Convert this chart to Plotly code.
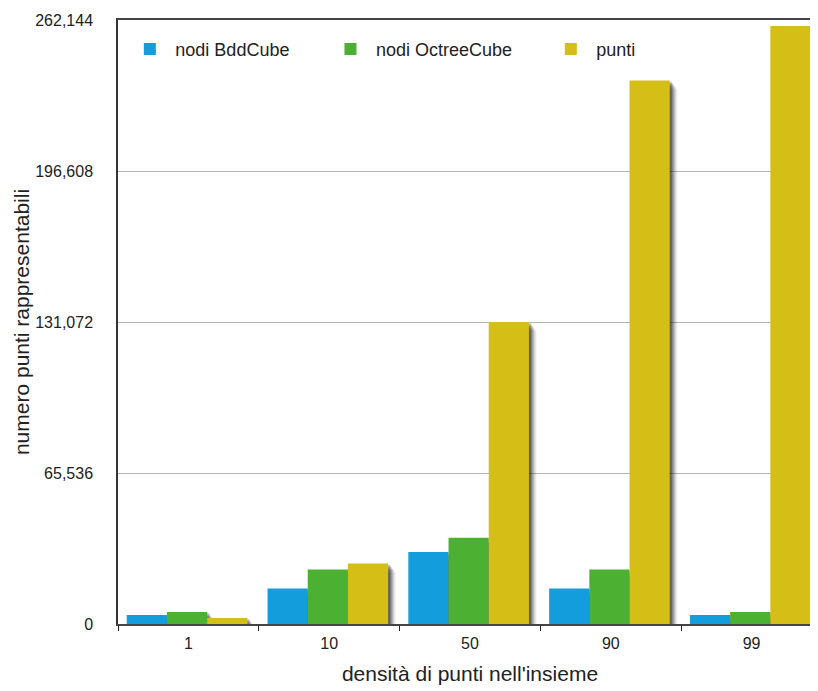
import plotly.graph_objects as go

categories = ["1", "10", "50", "90", "99"]
nodi_bddcube = [3900, 15400, 31200, 15400, 3900]
nodi_octreecube = [5200, 23600, 37400, 23600, 5200]
punti = [2621, 26214, 131072, 235930, 259523]
series_names = ["nodi BddCube", "nodi OctreeCube", "punti"]
y_tick_vals = [0, 65536, 131072, 196608, 262144]
y_tick_text = ["0", "65,536", "131,072", "196,608", "262,144"]

colors = ["#139ddd", "#4cb032", "#d5be16"]
series = [nodi_bddcube, nodi_octreecube, punti]
legends = ["legend", "legend2", "legend3"]
legend_x = [0.009, 0.294, 0.607]

W = 0.2855         # bar width in category units
offsets = [-0.438, -0.1525, 0.133]
PX = 1 / 140.8     # one pixel in category units
YPX = 262144 / 607 # one pixel in y units

fig = go.Figure()

# soft drop shadows (drawn first, underneath the bars)
for vals, off in zip(series, offsets):
    for k, a in [(1, 0.22), (2, 0.18), (3, 0.15), (4, 0.12), (5, 0.09), (6, 0.06), (7, 0.04)]:
        fig.add_trace(go.Bar(
            x=categories, y=vals, width=W, offset=off + (k + 1) * PX,
            base=[-k * 1.3 * YPX] * len(vals),
            marker=dict(color=f"rgba(0,0,0,{a})", line=dict(width=0)),
            showlegend=False, hoverinfo="skip", cliponaxis=False,
        ))

for name, vals, col, off, lg in zip(series_names, series, colors, offsets, legends):
    fig.add_trace(go.Bar(
        x=categories, y=vals, name=name, width=W, offset=off,
        marker=dict(color=col, line=dict(width=0)), legend=lg,
    ))

font = "Liberation Sans, Arial, Helvetica, sans-serif"
legend_style = dict(orientation="h", y=0.982, xanchor="left", yanchor="top",
                    font=dict(size=18, color="#222"), bgcolor="rgba(0,0,0,0)",
                    itemwidth=41)

fig.update_layout(
    width=818, height=691,
    margin=dict(l=110, r=4, t=9, b=75),
    barmode="overlay",
    paper_bgcolor="white", plot_bgcolor="white",
    font=dict(family=font, color="#222", size=16),
    showlegend=True,
    legend=dict(x=legend_x[0], **legend_style),
    legend2=dict(x=legend_x[1], **legend_style),
    legend3=dict(x=legend_x[2], **legend_style),
    xaxis=dict(
        type="category", range=[-0.5, 4.5],
        showline=True, linecolor="#444", linewidth=1.7, mirror=True,
        ticks="outside", ticklen=5, tickcolor="#222", tickson="boundaries",
        showgrid=False, tickfont=dict(size=16, color="#222"), ticklabelstandoff=4,
        title=dict(text="densità di punti nell'insieme", font=dict(size=21, color="#222"), standoff=15),
    ),
    yaxis=dict(
        range=[0, 262144], tickvals=y_tick_vals, ticktext=y_tick_text,
        showline=True, linecolor="#333", linewidth=1.5,
        showgrid=True, gridcolor="#b5b5b5", gridwidth=1,
        ticks="", ticklabelstandoff=20, zeroline=False,
        tickfont=dict(size=16, color="#222"),
        title=dict(text="numero punti rappresentabili", font=dict(size=21, color="#222"), standoff=0),
    ),
)

fig.write_html("out.html")
